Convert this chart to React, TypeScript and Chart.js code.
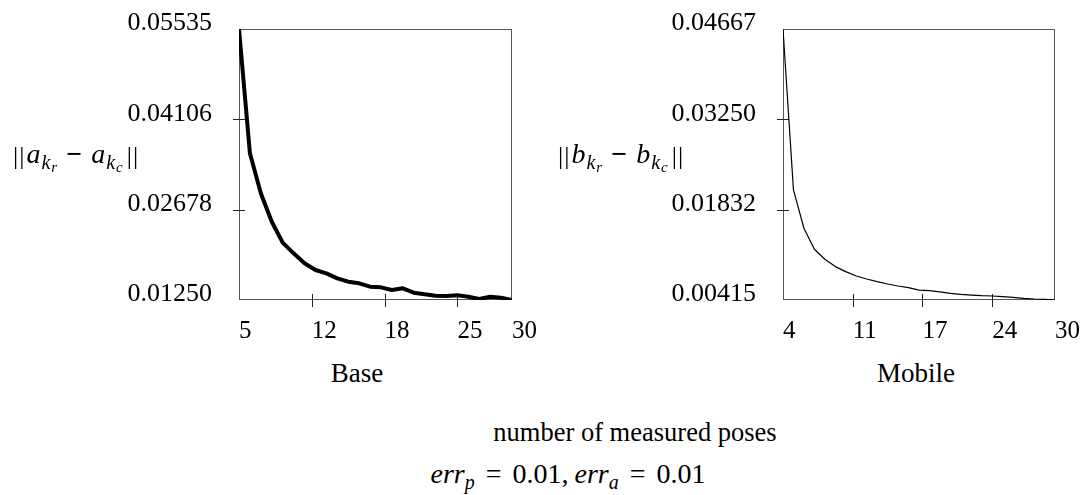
import React, { useEffect, useRef } from "react";
import { Chart, registerables } from "chart.js";

Chart.register(...registerables);

// ---------- data ----------
const baseX = [5, 6, 7, 8, 9, 10, 11, 12, 13, 14, 15, 16, 17, 18, 19, 20, 21, 22, 23, 24, 25, 26, 27, 28, 29, 30];
const baseErr = [
  0.05535, 0.03569, 0.02937, 0.02488, 0.02157, 0.01988, 0.0183, 0.01724, 0.01672, 0.01593, 0.0154, 0.01514,
  0.01461, 0.0145, 0.01408, 0.01435, 0.01365, 0.0134, 0.01318, 0.01313, 0.01324, 0.01302, 0.01266, 0.01302,
  0.01286, 0.0125,
];
const mobileX = [4, 5, 6, 7, 8, 9, 10, 11, 12, 13, 14, 15, 16, 17, 18, 19, 20, 21, 22, 23, 24, 25, 26, 27, 28, 29, 30];
const mobileErr = [
  0.04667, 0.02143, 0.01541, 0.01211, 0.01054, 0.00939, 0.0086, 0.00792, 0.00745, 0.00703, 0.00666, 0.00635,
  0.00609, 0.00569, 0.00561, 0.00541, 0.0052, 0.00504, 0.00493, 0.00483, 0.00478, 0.00467, 0.00457, 0.00441,
  0.00431, 0.00426, 0.00415,
];

const baseXTicks = [5, 11.667, 18.333, 25, 30];
const baseXTickLabels = ["5", "12", "18", "25", "30"];
const baseYTicks = [0.0125, 0.02678, 0.04106, 0.05535];
const baseYTickLabels = ["0.01250", "0.02678", "0.04106", "0.05535"];

const mobileXTicks = [4, 10.667, 17.333, 24, 30];
const mobileXTickLabels = ["4", "11", "17", "24", "30"];
const mobileYTicks = [0.00415, 0.01832, 0.0325, 0.04667];
const mobileYTickLabels = ["0.00415", "0.01832", "0.03250", "0.04667"];

const FONT = '"Liberation Serif", "Times New Roman", serif';

// frame + short crossing tick marks
const framePlugin = {
  id: "frameTicks",
  beforeDatasetsDraw(chart: any) {
    const { ctx, chartArea } = chart;
    const { left, right, top, bottom } = chartArea;
    ctx.save();
    ctx.strokeStyle = "#555";
    ctx.lineWidth = 1;
    ctx.strokeRect(left + 0.5, top + 0.5, right - left - 1, bottom - top - 1);
    ctx.strokeStyle = "#222";
    const xs = chart.scales.x;
    const ys = chart.scales.y;
    ctx.beginPath();
    xs.ticks.forEach((t: any, i: number) => {
      if (i === 0 || i === xs.ticks.length - 1) return;
      const px = Math.round(xs.getPixelForValue(t.value)) + 0.5;
      ctx.moveTo(px, bottom - 6);
      ctx.lineTo(px, bottom + 7);
    });
    ys.ticks.forEach((t: any, i: number) => {
      if (i === 0 || i === ys.ticks.length - 1) return;
      const py = Math.round(ys.getPixelForValue(t.value)) + 0.5;
      ctx.moveTo(left - 6, py);
      ctx.lineTo(left + 6, py);
    });
    ctx.stroke();
    ctx.restore();
  },
};

function makeConfig(
  xs: number[],
  ys: number[],
  xTicks: number[],
  xLabels: string[],
  yTicks: number[],
  yLabels: string[],
  lineWidth: number,
  yAxisWidth: number,
  padRight: number
): any {
  return {
    type: "line",
    data: {
      datasets: [
        {
          data: xs.map((x, i) => ({ x, y: ys[i] })),
          borderColor: "#000",
          borderWidth: lineWidth,
          pointRadius: 0,
          tension: 0,
          fill: false,
          borderJoinStyle: "round",
        },
      ],
    },
    options: {
      animation: false,
      responsive: false,
      layout: { padding: { left: 0, top: 29, right: padRight, bottom: 0 } },
      plugins: { legend: { display: false }, tooltip: { enabled: false } },
      scales: {
        x: {
          type: "linear",
          min: xs[0],
          max: xs[xs.length - 1],
          grid: { display: false, drawTicks: true, tickLength: 16 },
          border: { display: false },
          afterBuildTicks: (s: any) => {
            s.ticks = xTicks.map((v) => ({ value: v }));
          },
          afterFit: (s: any) => {
            s.height = 45;
          },
          ticks: {
            align: "start",
            padding: 0,
            autoSkip: false,
            maxRotation: 0,
            minRotation: 0,
            color: "#000",
            font: { family: FONT, size: 25 },
            callback: (_v: any, i: number) => xLabels[i],
          },
        },
        y: {
          type: "linear",
          min: yTicks[0],
          max: yTicks[yTicks.length - 1],
          grid: { display: false, drawTicks: true, tickLength: 27 },
          border: { display: false },
          afterBuildTicks: (s: any) => {
            s.ticks = yTicks.map((v) => ({ value: v }));
          },
          afterFit: (s: any) => {
            s.width = yAxisWidth;
          },
          ticks: {
            padding: 0,
            labelOffset: -5.5,
            autoSkip: false,
            color: "#000",
            font: { family: FONT, size: 26 },
            callback: (_v: any, i: number) => yLabels[i],
          },
        },
      },
    },
    plugins: [framePlugin],
  };
}

function Txt(props: { x: number; baseline: number; size: number; center?: boolean; children: any }) {
  const { x, baseline, size, center, children } = props;
  return (
    <div
      style={{
        position: "absolute",
        left: x,
        top: baseline - 0.3375 * size,
        fontSize: size,
        lineHeight: 0,
        whiteSpace: "nowrap",
        fontFamily: FONT,
        transform: center ? "translateX(-50%)" : undefined,
        color: "#000",
      }}
    >
      {children}
    </div>
  );
}

function NormLabel({ v, a, b }: { v: string; a: string; b: string }) {
  const bar = { fontSize: 26, letterSpacing: 1, margin: "0 1px", position: "relative", top: 1 } as any;
  const sub1 = { fontSize: 20, fontStyle: "italic", position: "relative", top: 6 } as any;
  const sub2 = { fontSize: 15, fontStyle: "italic", position: "relative", top: 3, marginLeft: 1 } as any;
  return (
    <span>
      <span style={bar}>||</span>
      <i style={{ marginRight: 1 }}>{v}</i>
      <span style={sub1}>
        k<span style={sub2}>{a}</span>
      </span>
      <b style={{ margin: "0 9px" }}>−</b>
      <i style={{ marginRight: 1 }}>{v}</i>
      <span style={sub1}>
        k<span style={sub2}>{b}</span>
      </span>
      <span style={{ ...bar, marginLeft: 4 }}>||</span>
    </span>
  );
}

export default function App() {
  const leftRef = useRef<HTMLCanvasElement>(null);
  const rightRef = useRef<HTMLCanvasElement>(null);

  useEffect(() => {
    const c1 = new Chart(
      leftRef.current as HTMLCanvasElement,
      makeConfig(baseX, baseErr, baseXTicks, baseXTickLabels, baseYTicks, baseYTickLabels, 4, 239, 48)
    );
    const c2 = new Chart(
      rightRef.current as HTMLCanvasElement,
      makeConfig(mobileX, mobileErr, mobileXTicks, mobileXTickLabels, mobileYTicks, mobileYTickLabels, 1.2, 223, 32)
    );
    return () => {
      c1.destroy();
      c2.destroy();
    };
  }, []);

  const subStyle = { fontSize: 20, fontStyle: "italic", position: "relative", top: 6 } as any;
  const eq = { margin: "0 11px" } as any;

  return (
    <div
      style={{
        position: "absolute",
        left: 0,
        top: 0,
        width: 1087,
        height: 495,
        background: "#fff",
        overflow: "hidden",
      }}
    >
      <canvas ref={leftRef} width={560} height={345} style={{ position: "absolute", left: 0, top: 0, width: 560, height: 345 }} />
      <canvas ref={rightRef} width={527} height={345} style={{ position: "absolute", left: 560, top: 0, width: 527, height: 345 }} />

      <Txt x={12} baseline={163} size={28}>
        <NormLabel v="a" a="r" b="c" />
      </Txt>
      <Txt x={557} baseline={163} size={28}>
        <NormLabel v="b" a="r" b="c" />
      </Txt>

      <Txt x={357} baseline={382} size={27} center>
        Base
      </Txt>
      <Txt x={916} baseline={382} size={27} center>
        Mobile
      </Txt>
      <Txt x={635} baseline={441} size={26.5} center>
        number of measured poses
      </Txt>
      <Txt x={568} baseline={483} size={28} center>
        <i>err</i>
        <span style={subStyle}>p</span>
        <span style={eq}>=</span>0.01,<span style={{ marginLeft: 6 }} />
        <i>err</i>
        <span style={subStyle}>a</span>
        <span style={eq}>=</span>0.01
      </Txt>
    </div>
  );
}
